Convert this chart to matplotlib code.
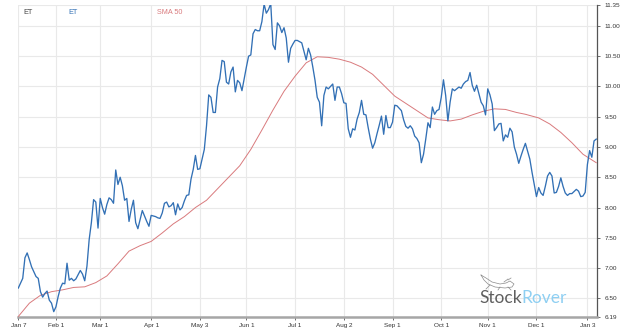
import numpy as np
import pandas as pd
import matplotlib
matplotlib.use("Agg")
import matplotlib.pyplot as plt
from matplotlib.lines import Line2D

# NYSE holidays in the period (no trading, but the weekday slot is kept on the axis)
holidays = ["2021-01-18", "2021-02-15", "2021-04-02", "2021-05-31", "2021-07-05",
            "2021-09-06", "2021-11-25", "2021-12-24"]

# Daily closes of ET, one list per month
close_jan21 = [6.67, 6.75, 6.83, 7.17, 7.25, 7.14, 7.02, 6.86, 6.83, 6.61, 6.52, 6.58,
               6.62, 6.47, 6.42, 6.28]
close_feb21 = [6.36, 6.53, 6.67, 6.75, 6.74, 7.08, 6.80, 6.83, 6.79, 6.82, 6.96, 6.90,
               6.79, 7.03, 7.47, 7.75, 8.13, 8.09, 7.66]
close_mar21 = [8.15, 8.00, 7.89, 8.05, 8.16, 8.13, 8.07, 8.62, 8.38, 8.50, 8.36, 8.12,
               8.15, 7.77, 7.97, 8.12, 7.75, 7.65, 7.80, 7.95, 7.86, 7.77, 7.69]
close_apr21 = [7.87, 7.85, 7.83, 7.82, 7.91, 8.07, 8.09, 8.01, 8.03, 8.08, 7.88, 8.06,
               7.96, 8.00, 8.11, 8.20, 8.21, 8.47, 8.63, 8.86, 8.63]
close_may21 = [8.64, 8.80, 8.96, 9.35, 9.86, 9.82, 9.57, 9.57, 9.99, 10.13, 10.43, 10.41,
               10.07, 10.04, 10.24, 10.32, 9.91, 10.10, 10.06, 9.93]
close_jun21 = [10.32, 10.50, 10.52, 10.87, 10.94, 10.92, 10.92, 11.07, 11.36, 11.21, 11.27,
               11.37, 10.69, 10.61, 11.05, 11.00, 10.89, 10.97, 10.80, 10.40, 10.63, 10.70]
close_jul21 = [10.76, 10.76, 10.72, 10.58, 10.44, 10.63, 10.52, 10.32, 10.10, 9.82, 9.74,
               9.35, 9.85, 9.99, 9.96, 10.00, 10.04, 9.77, 9.99, 9.99, 9.88]
close_aug21 = [9.73, 9.72, 9.30, 9.16, 9.30, 9.28, 9.46, 9.57, 9.77, 9.54, 9.53, 9.32,
               9.13, 8.98, 9.07, 9.22, 9.36, 9.51, 9.21, 9.52, 9.32, 9.32]
close_sep21 = [9.41, 9.69, 9.68, 9.60, 9.45, 9.34, 9.31, 9.35, 9.30, 9.18, 9.14, 9.07,
               8.74, 8.88, 9.13, 9.40, 9.32, 9.66, 9.54, 9.60, 9.62]
close_oct21 = [9.82, 10.11, 9.85, 9.43, 9.74, 9.96, 9.93, 9.96, 9.99, 9.97, 10.04, 10.08,
               10.10, 10.23, 10.02, 9.92, 10.02, 9.88, 9.74, 9.68, 9.53]
close_nov21 = [9.96, 9.86, 9.71, 9.27, 9.32, 9.38, 9.39, 9.10, 9.20, 9.16, 9.31, 9.25,
               9.00, 8.88, 8.73, 8.85, 8.96, 9.06, 8.80, 8.58, 8.38]
close_dec21 = [8.18, 8.33, 8.24, 8.20, 8.35, 8.52, 8.58, 8.52, 8.24, 8.25, 8.35, 8.49,
               8.35, 8.24, 8.20, 8.23, 8.23, 8.30, 8.27, 8.18, 8.19, 8.25]
close_jan22 = [8.71, 8.94, 8.83, 9.10, 9.13]

close = (close_jan21 + close_feb21 + close_mar21 + close_apr21 + close_may21 + close_jun21
         + close_jul21 + close_aug21 + close_sep21 + close_oct21 + close_nov21 + close_dec21
         + close_jan22)

# 50-day simple moving average, weekly samples
sma_dates = ["2021-01-07", "2021-01-14", "2021-01-21", "2021-01-28", "2021-02-04",
             "2021-02-11", "2021-02-18", "2021-02-25", "2021-03-04", "2021-03-11",
             "2021-03-18", "2021-03-25", "2021-04-01", "2021-04-08", "2021-04-15",
             "2021-04-22", "2021-04-29", "2021-05-06", "2021-05-13", "2021-05-20",
             "2021-05-27", "2021-06-03", "2021-06-10", "2021-06-17", "2021-06-24",
             "2021-07-01", "2021-07-08", "2021-07-15", "2021-07-22", "2021-07-29",
             "2021-08-05", "2021-08-12", "2021-08-19", "2021-08-26", "2021-09-02",
             "2021-09-09", "2021-09-16", "2021-09-23", "2021-09-30", "2021-10-07",
             "2021-10-14", "2021-10-21", "2021-10-28", "2021-11-04", "2021-11-11",
             "2021-11-18", "2021-11-24", "2021-12-02", "2021-12-09", "2021-12-16",
             "2021-12-23", "2021-12-30", "2022-01-07"]
sma_values = [6.20, 6.42, 6.55, 6.61, 6.64, 6.68, 6.69, 6.76, 6.87, 7.07,
              7.28, 7.37, 7.44, 7.58, 7.73, 7.85, 8.00, 8.12, 8.31, 8.50,
              8.69, 8.96, 9.28, 9.61, 9.92, 10.17, 10.39, 10.49, 10.48, 10.45,
              10.40, 10.32, 10.20, 10.02, 9.84, 9.72, 9.60, 9.48, 9.45, 9.43,
              9.46, 9.53, 9.59, 9.63, 9.62, 9.57, 9.54, 9.48, 9.38, 9.24,
              9.07, 8.88, 8.74]

tick_dates = ["2021-01-07", "2021-02-01", "2021-03-01", "2021-04-01", "2021-05-03",
              "2021-06-01", "2021-07-01", "2021-08-02", "2021-09-01", "2021-10-01",
              "2021-11-01", "2021-12-01", "2022-01-03"]
tick_labels = ["Jan 7", "Feb 1", "Mar 1", "Apr 1", "May 3", "Jun 1", "Jul 1", "Aug 2",
               "Sep 1", "Oct 1", "Nov 1", "Dec 1", "Jan 3"]
y_ticks = [6.19, 6.50, 7.00, 7.50, 8.00, 8.50, 9.00, 9.50, 10.00, 10.50, 11.00, 11.35]

START = np.datetime64("2021-01-07")


def weekday_pos(dates):
    d = np.array(pd.to_datetime(dates).values.astype("datetime64[D]"))
    return np.busday_count(START, d)


days = pd.bdate_range("2021-01-07", "2022-01-07", freq="C", holidays=holidays)
x_close = weekday_pos(days)
x_sma = weekday_pos(sma_dates)
x_ticks = weekday_pos(tick_dates)

BLUE = "#3270b5"
RED = "#d97a7d"
GRID = "#e9e9e9"
TXT = "#333333"

fig = plt.figure(figsize=(6.24, 3.32), dpi=100)
ax = fig.add_axes([18.3 / 624, 14.9 / 332, (596.7 - 18.3) / 624, (317.1 - 4.7) / 332])

ax.plot(x_sma, sma_values, color=RED, lw=0.7, zorder=3)
ax.plot(x_close, close, color=BLUE, lw=0.95, zorder=4)

ax.set_xlim(0, x_close[-1] + 0.2)
ax.set_ylim(6.19, 11.35)

ax.set_xticks(x_ticks)
ax.set_xticklabels(tick_labels)
ax.set_yticks(y_ticks)
ax.set_yticklabels([f"{v:.2f}" for v in y_ticks])
ax.yaxis.tick_right()

ax.grid(True, color=GRID, lw=0.8, zorder=0)
ax.set_axisbelow(True)

for s in ("left", "top"):
    ax.spines[s].set_visible(False)
ax.spines["right"].set_color("#555555")
ax.spines["right"].set_linewidth(0.9)
ax.spines["bottom"].set_color("#a6a6a6")
ax.spines["bottom"].set_linewidth(1.8)

ax.tick_params(axis="x", labelsize=4.6, colors="#555555", labelcolor=TXT, length=2.5,
               width=0.6, pad=2)
ax.tick_params(axis="y", labelsize=4.6, colors="#555555", labelcolor=TXT, length=2.5,
               width=0.6, pad=3)
for lab in ax.get_xticklabels() + ax.get_yticklabels():
    lab.set_fontfamily("Liberation Sans")

# series header
hdr_y = 1 - 12 / 332
fig.text(23 / 624, hdr_y, "ET", color="#444444", fontsize=5.2, va="center",
         family="Liberation Sans")
fig.text(68 / 624, hdr_y, "ET", color=BLUE, fontsize=5.2, va="center",
         family="Liberation Sans")
fig.text(157 / 624, hdr_y, "SMA 50", color=RED, fontsize=5.2, va="center",
         family="Liberation Sans")

# StockRover watermark
t1 = fig.text(479 / 624, (332 - 306) / 332, "Stock", color="#5f5f5f", fontsize=12.5,
              family="Lato", va="bottom", ha="left")
fig.canvas.draw()
ax.annotate("Rover", xy=(1, 0), xycoords=t1, color="#8ecff2", fontsize=12.5,
            family="Lato", va="bottom", ha="left", annotation_clip=False)

# rover sketch above the wordmark
dog_x = [481, 486, 492, 500, 506, 510, 514, 512, 505, 495, 488, 484, 481]
dog_y = [275, 278, 282, 284, 283, 281, 284, 287, 288, 287, 284, 280, 275]
fig.add_artist(Line2D([v / 624 for v in dog_x], [1 - v / 332 for v in dog_y],
                      transform=fig.transFigure, color="#8a8a8a", lw=0.5))
for lx, ly in [((490, 486), (285, 289)), ((500, 498), (287, 290)), ((508, 511), (287, 290)),
               ((504, 508), (282, 279)), ((508, 511), (280, 278))]:
    fig.add_artist(Line2D([v / 624 for v in lx], [1 - v / 332 for v in ly],
                          transform=fig.transFigure, color="#8a8a8a", lw=0.5))

fig.savefig("out.png", dpi=100)
